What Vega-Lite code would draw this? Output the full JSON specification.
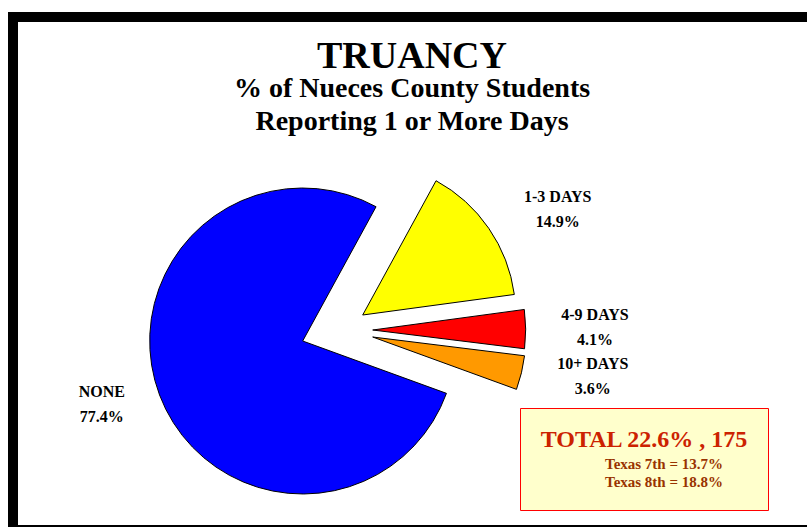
{
  "$schema": "https://vega.github.io/schema/vega-lite/v6.json",
  "width": 820,
  "height": 513,
  "autosize": {"type": "none"},
  "padding": {"left": 13, "top": 17, "right": 0, "bottom": 0},
  "background": "white",
  "view": {"stroke": "black", "strokeWidth": 10, "fill": "white"},
  "config": {"view": {"stroke": "black", "strokeWidth": 10}},
  "title": {
    "text": "TRUANCY",
    "subtitle": ["% of Nueces County Students", "Reporting 1 or More Days"],
    "frame": "group",
    "anchor": "middle",
    "orient": "top",
    "offset": -125,
    "dx": -11,
    "dy": -6,
    "font": "Liberation Serif",
    "fontSize": 38,
    "fontWeight": "bold",
    "color": "black",
    "subtitleFont": "Liberation Serif",
    "subtitleFontSize": 28,
    "subtitleFontWeight": "bold",
    "subtitleColor": "black",
    "subtitleLineHeight": 33,
    "subtitlePadding": -1
  },
  "datasets": {
    "truancy": [
      {"category": "1-3 DAYS", "pct": 14.9},
      {"category": "4-9 DAYS", "pct": 4.1},
      {"category": "10+ DAYS", "pct": 3.6},
      {"category": "NONE", "pct": 77.4}
    ],
    "notes": [
      {"note": "Texas 7th = 13.7%"},
      {"note": "Texas 8th = 18.8%"}
    ]
  },
  "layer": [
    {
      "data": {"name": "truancy"},
      "transform": [
        {"stack": "pct", "groupby": [], "as": ["p0", "p1"]},
        {"calculate": "(datum.p0 + datum.p1) / 2", "as": "mid"},
        {"calculate": "datum.category + '\\n' + format(datum.pct, '.1f') + '%'", "as": "label"}
      ],
      "encoding": {
        "color": {
          "field": "category",
          "type": "nominal",
          "scale": {
            "domain": ["1-3 DAYS", "4-9 DAYS", "10+ DAYS", "NONE"],
            "range": ["#ffff00", "#ff0000", "#ff9900", "#0000ff"]
          },
          "legend": null
        }
      },
      "layer": [
        {
          "transform": [{"filter": "datum.category === 'NONE'"}],
          "mark": {"type": "arc", "outerRadius": 153, "stroke": "black", "strokeWidth": 1, "xOffset": -120.3, "yOffset": 67.5},
          "encoding": {
            "theta": {"field": "p0", "type": "quantitative", "scale": {"domain": [0, 100], "range": [0.5, 6.783185]}},
            "theta2": {"field": "p1"}
          }
        },
        {
          "transform": [{"filter": "datum.category === '1-3 DAYS'"}],
          "mark": {"type": "arc", "outerRadius": 153, "stroke": "black", "strokeWidth": 1, "xOffset": -60.3, "yOffset": 41.5},
          "encoding": {
            "theta": {"field": "p0", "type": "quantitative"},
            "theta2": {"field": "p1"}
          }
        },
        {
          "transform": [{"filter": "datum.category === '4-9 DAYS'"}],
          "mark": {"type": "arc", "outerRadius": 153, "stroke": "black", "strokeWidth": 1, "xOffset": -50.3, "yOffset": 56.5},
          "encoding": {
            "theta": {"field": "p0", "type": "quantitative"},
            "theta2": {"field": "p1"}
          }
        },
        {
          "transform": [{"filter": "datum.category === '10+ DAYS'"}],
          "mark": {"type": "arc", "outerRadius": 153, "stroke": "black", "strokeWidth": 1, "xOffset": -50.3, "yOffset": 63.5},
          "encoding": {
            "theta": {"field": "p0", "type": "quantitative"},
            "theta2": {"field": "p1"}
          }
        },
        {
          "transform": [{"filter": "datum.category === '1-3 DAYS'"}],
          "mark": {"type": "text", "radius": 270, "xOffset": -87.7, "yOffset": 76.5, "font": "Liberation Serif", "fontSize": 16, "fontWeight": "bold", "lineBreak": "\n", "lineHeight": 25, "align": "center", "baseline": "middle"},
          "encoding": {
            "theta": {"field": "mid", "type": "quantitative", "stack": null},
            "text": {"field": "label"},
            "color": {"value": "black"}
          }
        },
        {
          "transform": [{"filter": "datum.category === '4-9 DAYS'"}],
          "mark": {"type": "text", "radius": 290, "xOffset": -118, "yOffset": 43.2, "font": "Liberation Serif", "fontSize": 16, "fontWeight": "bold", "lineBreak": "\n", "lineHeight": 25, "align": "center", "baseline": "middle"},
          "encoding": {
            "theta": {"field": "mid", "type": "quantitative", "stack": null},
            "text": {"field": "label"},
            "color": {"value": "black"}
          }
        },
        {
          "transform": [{"filter": "datum.category === '10+ DAYS'"}],
          "mark": {"type": "text", "radius": 290, "xOffset": -112.2, "yOffset": 22.6, "font": "Liberation Serif", "fontSize": 16, "fontWeight": "bold", "lineBreak": "\n", "lineHeight": 25, "align": "center", "baseline": "middle"},
          "encoding": {
            "theta": {"field": "mid", "type": "quantitative", "stack": null},
            "text": {"field": "label"},
            "color": {"value": "black"}
          }
        },
        {
          "transform": [{"filter": "datum.category === 'NONE'"}],
          "mark": {"type": "text", "radius": 215, "xOffset": -120.1, "yOffset": 43, "font": "Liberation Serif", "fontSize": 16, "fontWeight": "bold", "lineBreak": "\n", "lineHeight": 25, "align": "center", "baseline": "middle"},
          "encoding": {
            "theta": {"field": "mid", "type": "quantitative", "stack": null},
            "text": {"field": "label"},
            "color": {"value": "black"}
          }
        }
      ]
    },
    {
      "data": {"name": "notes"},
      "mark": {"type": "point", "opacity": 0},
      "encoding": {
        "shape": {
          "field": "note",
          "type": "nominal",
          "legend": {
            "orient": "none",
            "legendX": 507,
            "legendY": 391,
            "title": "TOTAL 22.6% , 175",
            "titleFont": "Liberation Serif",
            "titleFontSize": 24,
            "titleFontWeight": "bold",
            "titleColor": "#cc2200",
            "titleAnchor": "middle",
            "titleLimit": 400,
            "titlePadding": 4,
            "labelFont": "Liberation Serif",
            "labelFontSize": 15,
            "labelFontWeight": "bold",
            "labelColor": "#993300",
            "labelOffset": 26,
            "symbolSize": 100,
            "symbolOpacity": 0,
            "rowPadding": 2,
            "fillColor": "#ffffcc",
            "strokeColor": "#ff0000",
            "padding": 20
          }
        }
      }
    }
  ]
}
